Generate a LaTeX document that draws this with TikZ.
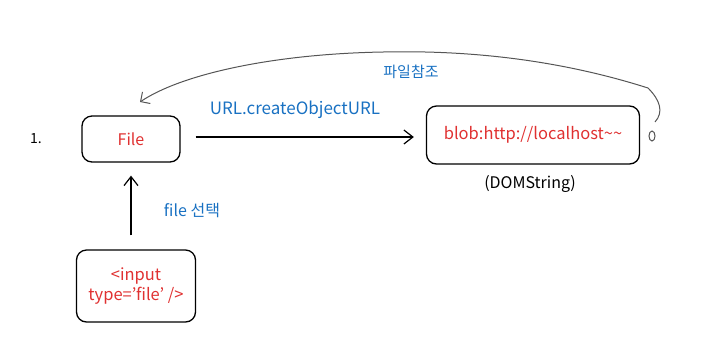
\documentclass[tikz,border=0pt]{standalone}
\usepackage{fontspec}
\setmainfont{Noto Sans CJK KR}
\usetikzlibrary{arrows.meta}
\definecolor{xred}{HTML}{E03131}
\definecolor{xblue}{HTML}{1971C2}
\definecolor{xgray}{HTML}{555555}
\begin{document}
\begin{tikzpicture}[x=1pt,y=-1pt,
  box/.style={draw=black,line width=1.3pt,rounded corners=10pt,inner sep=0pt,align=center,text=xred},
  conn/.style={line width=1.2pt,-{Straight Barb[length=9pt,width=14pt,line width=1.2pt]}},
  lbl/.style={text=xblue,font=\fontsize{15}{17}\selectfont}]
\useasboundingbox (0,0) rectangle (719,360);
\node[font=\fontsize{14}{16}\selectfont] (num) at (36,139) {1.};
\node[box,minimum width=98pt,minimum height=46pt,font=\fontsize{16}{18}\selectfont] (file) at (131,139) {File};
\node[box,minimum width=213pt,minimum height=58pt,font=\fontsize{16.5}{18}\selectfont] (blob) at (533,135) {blob:http://localhost\textasciitilde\textasciitilde};
\node[font=\fontsize{16}{18}\selectfont] (dom) at (530,184) {(DOMString)};
\node[box,minimum width=119pt,minimum height=72pt,font=\fontsize{16.5}{20}\selectfont] (input) at (136,286) {<input\\type=\symbol{39}file\symbol{39} />};
\draw[conn] ([xshift=15pt,yshift=2pt]file.east) -- ([xshift=-12pt,yshift=-2pt]blob.west);
\node[lbl,font=\fontsize{17}{19}\selectfont] (u) at (295,110) {URL.createObjectURL};
\draw[conn] ([yshift=14pt]input.north -| file.south) -- ([yshift=-13pt]file.south);
\node[lbl,font=\fontsize{16}{18}\selectfont] (sel) at (192,211) {file 선택};
\coordinate (cs) at (655,122);
\draw[xgray,line width=1pt] (652,136) ellipse (3pt and 5pt);
\draw[xgray,line width=1pt,-{Straight Barb[length=7pt,width=14pt,line width=1pt]}] (cs) .. controls (664,112) and (660,100) .. (648,88) .. controls (560,60) and (470,50) .. (383,52) .. controls (270,54) and (180,75) .. (140,102);
\node[lbl] (ref) at (411,72) {파일참조};
\end{tikzpicture}
\end{document}
